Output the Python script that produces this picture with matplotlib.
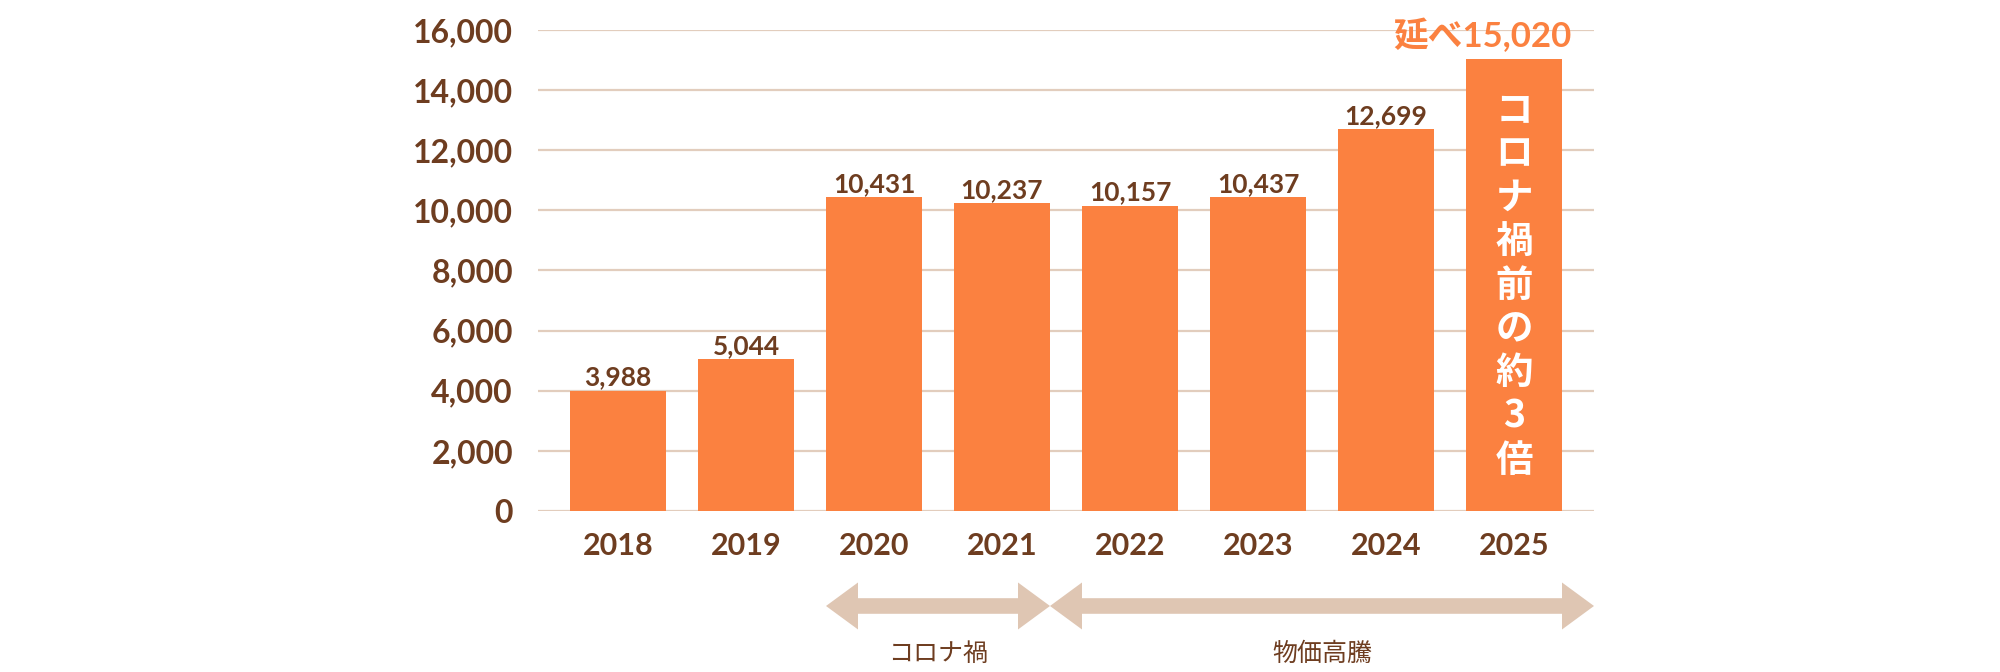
import numpy as np
import matplotlib
matplotlib.use('Agg')
import matplotlib.pyplot as plt
from matplotlib.patches import Polygon
import matplotlib.transforms as mtransforms

plt.rcParams['font.family'] = ['Lato', 'Noto Sans CJK JP', 'DejaVu Sans']

years = ['2018', '2019', '2020', '2021', '2022', '2023', '2024', '2025']
counts = [3988, 5044, 10431, 10237, 10157, 10437, 12699, 15020]
y_ticks = [0, 2000, 4000, 6000, 8000, 10000, 12000, 14000, 16000]
total_label = '延べ15,020'
inside_label = 'コロナ禍前の約3倍'
periods = ['コロナ禍', '物価高騰']

ORANGE = '#fb8140'
BROWN = '#6e3d20'
GRID = '#e2cdbd'
ARROW = '#dfc6b3'

fig = plt.figure(figsize=(20, 6.72), dpi=100)
ax = fig.add_axes([0.269, 0.2396, 0.528, 0.7158])

x = np.arange(len(years))
bw = 0.75
ax.bar(x, counts, width=bw, color=ORANGE, zorder=3)

ax.set_xlim(-0.625, len(years) - 1 + 0.625)
ax.set_ylim(0, 16000)
ax.set_yticks(y_ticks)
ax.set_yticklabels([f'{v:,}' for v in y_ticks])
ax.set_xticks(x)
ax.set_xticklabels(years)
ax.tick_params(axis='y', length=0, pad=18, labelsize=23, labelcolor=BROWN)
ax.tick_params(axis='x', length=0, pad=15, labelsize=22, labelcolor=BROWN)
for lab in ax.get_xticklabels() + ax.get_yticklabels():
    lab.set_fontweight('bold')
ax.yaxis.grid(True, color=GRID, lw=1.6, zorder=0)
ax.set_axisbelow(True)
for s in ax.spines.values():
    s.set_visible(False)

# value labels (last bar gets the orange total instead)
for xi, v in zip(x[:-1], counts[:-1]):
    ax.annotate(f'{v:,}', (xi, v), xytext=(0, 4), textcoords='offset points',
                ha='center', va='baseline', fontsize=19, fontweight='bold', color=BROWN)

ax.annotate(total_label, (x[-1] + bw / 2, counts[-1]), xytext=(7, 9),
            textcoords='offset points', ha='right', va='baseline',
            fontsize=25, fontweight='bold', color=ORANGE, annotation_clip=False)

# vertical text inside the last bar
n = len(inside_label)
pitch = 31.5
for i, ch in enumerate(inside_label):
    off = ((n - 1) / 2 - i) * pitch
    ax.annotate(ch, (x[-1], counts[-1] / 2), xytext=(0, off), textcoords='offset points',
                ha='center', va='center', fontsize=27, fontweight='bold', color='white',
                family=['Noto Sans CJK JP'], zorder=4)

# period arrows below the axis
trans = mtransforms.blended_transform_factory(ax.transData, ax.transAxes)
ax_h_px = ax.get_position().height * fig.get_figheight() * fig.dpi
px_per_unit = ax.get_position().width * fig.get_figwidth() * fig.dpi / (ax.get_xlim()[1] - ax.get_xlim()[0])
yc = -95 / ax_h_px
shaft = 7.8 / ax_h_px
head = 23.5 / ax_h_px
hl = 32 / px_per_unit


def double_arrow(x0, x1):
    pts = [(x0, yc), (x0 + hl, yc + head), (x0 + hl, yc + shaft), (x1 - hl, yc + shaft),
           (x1 - hl, yc + head), (x1, yc), (x1 - hl, yc - head), (x1 - hl, yc - shaft),
           (x0 + hl, yc - shaft), (x0 + hl, yc - head)]
    ax.add_patch(Polygon(pts, closed=True, transform=trans, color=ARROW, lw=0, clip_on=False))


spans = [(x[2] - bw / 2, x[3] + bw / 2), (x[3] + bw / 2, ax.get_xlim()[1])]
for label, (x0, x1) in zip(periods, spans):
    double_arrow(x0, x1)
    ax.text((x0 + x1) / 2, -143 / ax_h_px, label, transform=trans, ha='center', va='center',
            fontsize=18, color=BROWN, family=['Noto Sans CJK JP'])

fig.savefig('out.png', dpi=100)
